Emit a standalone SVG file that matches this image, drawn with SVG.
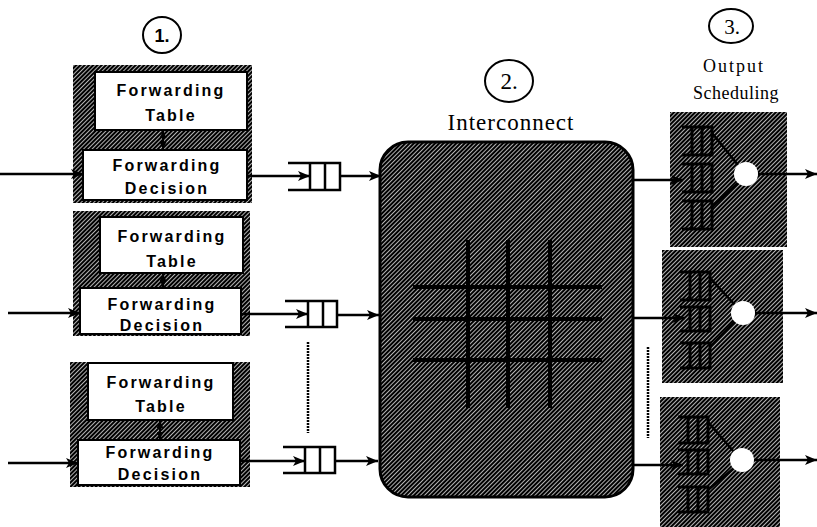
<svg xmlns="http://www.w3.org/2000/svg" width="817" height="527" viewBox="0 0 817 527">
<style>
.bx{fill:#fff;stroke:#000;stroke-width:2}
.ft{font-family:"Liberation Sans",Arial,sans-serif;font-weight:bold;font-size:16px;letter-spacing:2.2px;text-anchor:middle;fill:#000}
.sr{font-family:"Liberation Serif","Times New Roman",serif;text-anchor:middle;fill:#000}
.ln{stroke:#000;stroke-width:2.5;fill:none}
.ar{stroke:#000;stroke-width:2.5;fill:none;marker-end:url(#ah)}
.da{stroke:#000;stroke-width:2;fill:none;marker-end:url(#sh);marker-start:url(#sh)}
.dot{stroke:#000;stroke-width:2.5;stroke-dasharray:2 1;fill:none}
.q{stroke:#000;stroke-width:2.5;fill:none}
.sq{stroke:#000;stroke-width:3;fill:none}
.grid{stroke:#000;stroke-width:4}
.hat{fill:url(#h)}
.cir{fill:#fff;stroke:#000;stroke-width:2}
</style>
<defs>
<pattern id="h" patternUnits="userSpaceOnUse" width="3" height="3" patternTransform="rotate(-45)">
<rect width="3" height="3" fill="#fff"/>
<rect width="3" height="2.3" fill="#000"/>
</pattern>
<marker id="ah" markerUnits="userSpaceOnUse" markerWidth="12" markerHeight="10" refX="12" refY="5" orient="auto">
<path d="M0,0 L12,5 L0,10 L3,5 z" fill="#000"/>
</marker>
<marker id="sh" markerUnits="userSpaceOnUse" markerWidth="7" markerHeight="7" refX="7" refY="3.5" orient="auto-start-reverse">
<path d="M0,0 L7,3.5 L0,7 z" fill="#000"/>
</marker>
</defs>
<rect width="817" height="527" fill="#fff"/>

<g id="label1">
<ellipse class="cir" cx="162" cy="35" rx="19" ry="18"/>
<text x="162" y="42" style="font-family:'Liberation Sans',Arial,sans-serif;font-weight:bold;font-size:18px;text-anchor:middle">1.</text>
</g>
<g id="label2">
<ellipse class="cir" cx="509" cy="81" rx="24" ry="21"/>
<text class="sr" x="509" y="89" font-size="23">2.</text>
<text class="sr" x="511" y="130" font-size="23" letter-spacing="1">Interconnect</text>
</g>
<g id="label3">
<ellipse class="cir" cx="731" cy="26" rx="22" ry="17"/>
<text class="sr" x="732" y="34" font-size="21">3.</text>
<text class="sr" x="734" y="72" font-size="18" letter-spacing="2">Output</text>
<text class="sr" x="736" y="99" font-size="18" letter-spacing="0.5">Scheduling</text>
</g>

<g id="block1">
<rect class="hat" x="73" y="65" width="179" height="138"/>
<rect class="bx" x="95" y="72" width="152" height="58"/>
<rect class="bx" x="83" y="150" width="164" height="50"/>
<text class="ft" x="171" y="96">Forwarding</text>
<text class="ft" x="171" y="121">Table</text>
<text class="ft" x="167" y="171">Forwarding</text>
<text class="ft" x="167" y="194">Decision</text>
</g>
<g id="block2">
<rect class="hat" x="73" y="211" width="177" height="125"/>
<rect class="bx" x="100" y="217" width="143" height="56"/>
<rect class="bx" x="80" y="288" width="161" height="46"/>
<text class="ft" x="172" y="242">Forwarding</text>
<text class="ft" x="172" y="267">Table</text>
<text class="ft" x="162" y="310">Forwarding</text>
<text class="ft" x="162" y="331">Decision</text>
</g>
<g id="block3">
<rect class="hat" x="70" y="362" width="180" height="125"/>
<rect class="bx" x="88" y="363" width="145" height="57"/>
<rect class="bx" x="78" y="440" width="162" height="45"/>
<text class="ft" x="161" y="388">Forwarding</text>
<text class="ft" x="161" y="412">Table</text>
<text class="ft" x="160" y="458">Forwarding</text>
<text class="ft" x="160" y="480">Decision</text>
</g>

<g id="queue1">
<rect x="310" y="163" width="30" height="27" fill="#fff"/>
<path class="q" d="M288,163 H340 V190 H288 M310,163 V190 M325,163 V190"/>
</g>
<g id="queue2">
<rect x="308" y="301" width="29" height="26" fill="#fff"/>
<path class="q" d="M285,301 H337 V327 H285 M308,301 V327 M323,301 V327"/>
</g>
<g id="queue3">
<rect x="305" y="447" width="30" height="26" fill="#fff"/>
<path class="q" d="M283,447 H335 V473 H283 M305,447 V473 M320,447 V473"/>
</g>

<g id="interconnect">
<rect class="hat" x="380" y="142" width="253" height="355" rx="28" stroke="#000" stroke-width="3"/>
<path class="grid" d="M468,240 V408 M508,240 V408 M550,240 V408 M413,287 H602 M413,319 H602 M413,360 H602"/>
</g>

<g id="sched1">
<rect class="hat" x="670" y="112" width="117" height="135"/>
<path class="sq" d="M682,127 H712 V155 H682 M692,127 V155 M702,127 V155"/>
<path class="sq" d="M682,164 H712 V192 H682 M692,164 V192 M702,164 V192"/>
<path class="sq" d="M682,201 H712 V229 H682 M692,201 V229 M702,201 V229"/>
<path class="ln" d="M712,133 L738,165 M712,207 L738,183"/>
<circle cx="746" cy="174" r="12" fill="#fff"/>
</g>
<g id="sched2">
<rect class="hat" x="662" y="250" width="121" height="133"/>
<path class="sq" d="M680,272 H710 V300 H680 M690,272 V300 M700,272 V300"/>
<path class="sq" d="M680,307 H710 V331 H680 M690,307 V331 M700,307 V331"/>
<path class="sq" d="M680,343 H710 V368 H680 M690,343 V368 M700,343 V368"/>
<path class="ln" d="M710,278 L735,305 M710,347 L735,321"/>
<circle cx="743" cy="313" r="12" fill="#fff"/>
</g>
<g id="sched3">
<rect class="hat" x="660" y="397" width="120" height="130"/>
<path class="sq" d="M678,417 H708 V443 H678 M688,417 V443 M698,417 V443"/>
<path class="sq" d="M678,450 H708 V474 H678 M688,450 V474 M698,450 V474"/>
<path class="sq" d="M678,487 H708 V512 H678 M688,487 V512 M698,487 V512"/>
<path class="ln" d="M708,422 L734,452 M708,490 L734,468"/>
<circle cx="742" cy="460" r="12" fill="#fff"/>
</g>

<g id="connectors">
<path class="ar" d="M0,174 H83"/>
<path class="ar" d="M8,313 H80"/>
<path class="ar" d="M8,463 H78"/>
<path class="da" d="M163,131 V149"/>
<path class="da" d="M163,274 V287"/>
<path class="da" d="M160,421 V439"/>
<path class="ar" d="M247,176 H310"/>
<path class="ar" d="M241,314 H308"/>
<path class="ar" d="M240,461 H305"/>
<path class="ar" d="M340,176 H381"/>
<path class="ar" d="M337,315 H379"/>
<path class="ar" d="M335,461 H378"/>
<path class="dot" d="M308,342 V433"/>
<path class="ar" d="M633,180 H683"/>
<path class="ar" d="M633,318 H685"/>
<path class="ar" d="M632,465 H683"/>
<path class="dot" d="M648,347 V438"/>
<path class="ar" d="M758,174 H817"/>
<path class="ar" d="M755,313 H817"/>
<path class="ar" d="M754,460 H817"/>
</g>
</svg>
